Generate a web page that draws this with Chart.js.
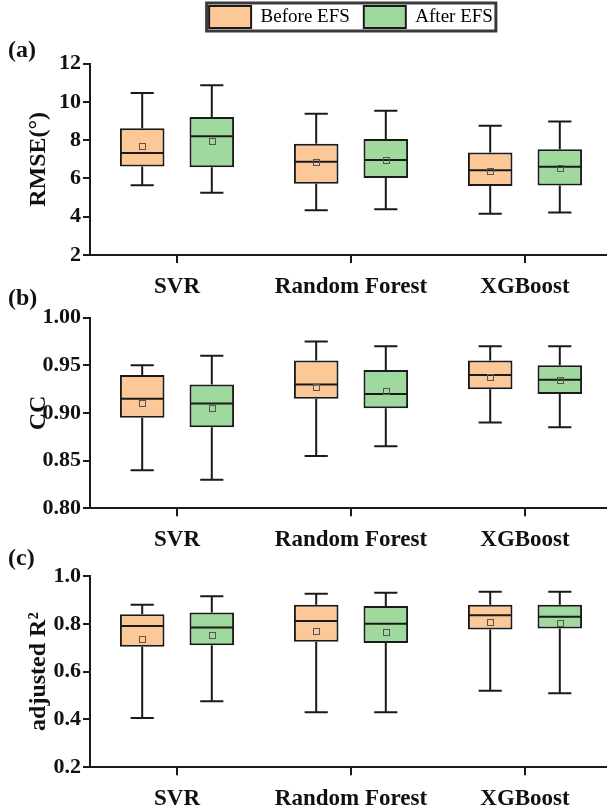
<!DOCTYPE html>
<html>
<head>
<meta charset="utf-8">
<script src="https://cdn.jsdelivr.net/npm/chart.js@4.4.1/dist/chart.umd.min.js"></script>
<style>
html, body { margin: 0; padding: 0; background: #fff; overflow: hidden; width: 607px; height: 812px; }
canvas { position: absolute; left: 0; top: 0; }
</style>
</head>
<body>
<canvas id="chartA" width="612" height="812"></canvas>
<canvas id="chartB" width="612" height="812"></canvas>
<canvas id="chartC" width="612" height="812"></canvas>
<script>
const models = ['SVR', 'Random Forest', 'XGBoost']
const seriesNames = ['Before EFS', 'After EFS']

// one row per model: [min, q1, median, q3, max, mean]
const rmseBefore = [[5.65, 6.62, 7.33, 8.63, 10.47, 7.70], [4.34, 5.72, 6.87, 7.81, 9.38, 6.88], [4.15, 5.61, 6.43, 7.36, 8.75, 6.40]]
const rmseAfter = [[5.25, 6.59, 8.21, 9.21, 10.88, 7.98], [4.39, 6.03, 6.97, 8.07, 9.54, 6.99], [4.22, 5.63, 6.61, 7.53, 8.98, 6.57]]
const ccBefore = [[0.840, 0.895, 0.915, 0.940, 0.950, 0.911], [0.855, 0.915, 0.930, 0.955, 0.975, 0.927], [0.890, 0.925, 0.940, 0.955, 0.970, 0.938]]
const ccAfter = [[0.830, 0.885, 0.910, 0.930, 0.960, 0.905], [0.865, 0.905, 0.920, 0.945, 0.970, 0.923], [0.885, 0.920, 0.935, 0.950, 0.970, 0.935]]
const r2Before = [[0.406, 0.704, 0.791, 0.840, 0.880, 0.735], [0.430, 0.725, 0.812, 0.880, 0.926, 0.770], [0.520, 0.776, 0.836, 0.880, 0.934, 0.808]]
const r2After = [[0.476, 0.710, 0.785, 0.847, 0.915, 0.752], [0.430, 0.720, 0.800, 0.875, 0.930, 0.766], [0.510, 0.780, 0.830, 0.880, 0.934, 0.805]]

const rmseTicks = [2, 4, 6, 8, 10, 12]
const ccTicks = [0.80, 0.85, 0.90, 0.95, 1.00]
const r2Ticks = [0.2, 0.4, 0.6, 0.8, 1.0]

const orange = '#FDC897'
const green = '#A0D99E'
const ink = '#1a1a1a'
const serif = '"Liberation Serif", "Times New Roman", serif'

Chart.defaults.font.family = serif
Chart.defaults.color = '#111'

// whiskers, caps, median and mean for each floating bar
const boxPlugin = {
    id: 'boxExtras',
    afterDatasetsDraw(chart) {
        const ctx = chart.ctx
        const y = chart.scales.y
        chart.data.datasets.forEach((ds, d) => {
            const meta = chart.getDatasetMeta(d)
            meta.data.forEach((bar, i) => {
                const s = ds.stats[i]
                const x = bar.x, w = bar.width, cap = w * 0.26
                ctx.save()
                ctx.strokeStyle = ink
                ctx.lineWidth = 2
                ctx.beginPath()
                ctx.moveTo(x, y.getPixelForValue(s[3])); ctx.lineTo(x, y.getPixelForValue(s[4]))
                ctx.moveTo(x, y.getPixelForValue(s[1])); ctx.lineTo(x, y.getPixelForValue(s[0]))
                ctx.moveTo(x - cap, y.getPixelForValue(s[4])); ctx.lineTo(x + cap, y.getPixelForValue(s[4]))
                ctx.moveTo(x - cap, y.getPixelForValue(s[0])); ctx.lineTo(x + cap, y.getPixelForValue(s[0]))
                ctx.moveTo(x - w / 2 + 1, y.getPixelForValue(s[2])); ctx.lineTo(x + w / 2 - 1, y.getPixelForValue(s[2]))
                ctx.stroke()
                ctx.lineWidth = 1
                ctx.strokeStyle = '#555'
                const my = y.getPixelForValue(s[5])
                ctx.strokeRect(Math.round(x) - 3 + 0.5, Math.round(my) - 3 + 0.5, 6, 6)
                ctx.restore()
            })
        })
    }
}

// (a) (b) (c) tags and the frame round the legend
const panelPlugin = {
    id: 'panelTag',
    afterDraw(chart, args, opts) {
        const ctx = chart.ctx
        ctx.save()
        ctx.font = 'bold 24px ' + serif
        ctx.fillStyle = '#111'
        ctx.textBaseline = 'middle'
        ctx.fillText(opts.text, 8, chart.chartArea.top - opts.dy)
        if (chart.legend && chart.legend.options.display) {
            const lab = chart.legend.options.labels
            const hb = chart.legend.legendHitBoxes
            const items = chart.legend.legendItems
            const last = hb[hb.length - 1]
            ctx.font = lab.font.size + 'px ' + serif
            const textW = ctx.measureText(items[items.length - 1].text).width
            const l = hb[0].left - 2.5, t = hb[0].top - 3
            const r = last.left + lab.boxWidth + lab.font.size / 2 + textW + 3
            const b = hb[0].top + lab.boxHeight + 3
            ctx.strokeStyle = '#3a3a3a'
            ctx.lineWidth = 3
            ctx.strokeRect(l, t, r - l, b - t)
        }
        ctx.restore()
    }
}

// legend takes a fixed height so the plot starts where it does in the figure
const legendHeight = {
    id: 'legendHeight',
    beforeLayout(chart, args, opts) {
        const lg = chart.legend
        if (lg && !lg._fixedFit && opts.height) {
            const fit = lg.fit
            lg.fit = function () { fit.call(this); this.height = opts.height }
            lg._fixedFit = true
        }
    }
}

function boxChart(id, before, after, ticks, decimals, title, tag, tagDy, padTop, padBottom, legend) {
    const datasets = [before, after].map((stats, k) => ({
        label: seriesNames[k],
        data: stats.map(s => [s[1], s[3]]),
        stats: stats,
        backgroundColor: k === 0 ? orange : green,
        borderColor: ink,
        borderWidth: 2,
        borderSkipped: false,
        barPercentage: 0.64,
        categoryPercentage: 0.8
    }))
    return new Chart(document.getElementById(id), {
        type: 'bar',
        data: { labels: models, datasets: datasets },
        plugins: [legendHeight, boxPlugin, panelPlugin],
        options: {
            responsive: false,
            animation: false,
            events: [],
            layout: { padding: { top: padTop, bottom: padBottom, left: 0, right: 0 } },
            plugins: {
                tooltip: { enabled: false },
                legendHeight: { height: legend ? 71.7 : 0 },
                panelTag: { text: tag, dy: tagDy },
                legend: {
                    display: legend,
                    position: 'top',
                    fullSize: false,
                    labels: { boxWidth: 42, boxHeight: 22, padding: 14, color: '#000', font: { size: 19 } }
                }
            },
            scales: {
                x: {
                    offset: true,
                    grid: { offset: false, drawOnChartArea: false, drawTicks: true, tickLength: 8, lineWidth: 2, color: ink },
                    border: { display: true, width: 2, color: ink },
                    ticks: { padding: 10, color: '#111', font: { size: 23, weight: 'bold' } },
                    afterFit(scale) { scale.height = 43.5 }
                },
                y: {
                    min: ticks[0],
                    max: ticks[ticks.length - 1],
                    afterBuildTicks(scale) { scale.ticks = ticks.map(v => ({ value: v })) },
                    grid: { drawOnChartArea: false, drawTicks: true, tickLength: 7, lineWidth: 2, color: ink },
                    border: { display: true, width: 2, color: ink },
                    ticks: {
                        padding: 2,
                        color: '#111',
                        font: { size: 22, weight: 'bold' },
                        callback: v => Number(v).toFixed(decimals)
                    },
                    title: { display: true, text: title, color: '#111', padding: { top: 24, bottom: 0 }, font: { size: 24, weight: 'bold' } },
                    afterFit(scale) { scale.width = 90 }
                }
            }
        }
    })
}

boxChart('chartA', rmseBefore, rmseAfter, rmseTicks, 0, 'RMSE(°)', '(a)', 13, -8, 513.5, true)
boxChart('chartB', ccBefore, ccAfter, ccTicks, 2, 'CC', '(b)', 18.7, 317.7, 260.2, false)
boxChart('chartC', r2Before, r2After, r2Ticks, 1, 'adjusted R²', '(c)', 17, 576, 1.2, false)
</script>
</body>
</html>
